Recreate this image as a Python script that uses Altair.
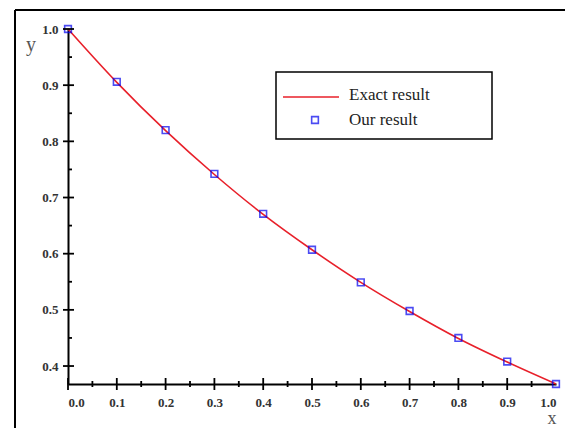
import altair as alt
import pandas as pd

# ---- data ----
x_vals = [0.0, 0.1, 0.2, 0.3, 0.4, 0.5, 0.6, 0.7, 0.8, 0.9, 1.0]
exact_y = [1.000, 0.905, 0.819, 0.741, 0.670, 0.607, 0.549, 0.497, 0.449, 0.407, 0.368]
our_y = [1.000, 0.906, 0.820, 0.742, 0.671, 0.607, 0.549, 0.498, 0.450, 0.408, 0.368]
x_major = [0.0, 0.1, 0.2, 0.3, 0.4, 0.5, 0.6, 0.7, 0.8, 0.9]
x_minor = [0.05, 0.15, 0.25, 0.35, 0.45, 0.55, 0.65, 0.75, 0.85, 0.95]
y_major = [0.4, 0.5, 0.6, 0.7, 0.8, 0.9, 1.0]
y_minor = [0.45, 0.55, 0.65, 0.75, 0.85, 0.95]
legend_labels = ["Exact result", "Our result"]

W, H = 488, 355
FONT = "Liberation Serif"

xs = alt.Scale(domain=[0, 1.0], nice=False, zero=False)
ys = alt.Scale(domain=[0.368, 1.0], nice=False, zero=False)

df_exact = pd.DataFrame({"x": x_vals, "y": exact_y})
df_our = pd.DataFrame({"x": x_vals, "y": our_y})

axis_common = dict(
    ticks=False, grid=False, domainColor="black", domainWidth=2,
    labelFont=FONT, labelFontSize=13, labelFontWeight="bold", labelColor="#333333",
    format=".1f", title=None,
)

line = alt.Chart(df_exact).mark_line(color="#e8202a", strokeWidth=1.6, interpolate="monotone").encode(
    x=alt.X("x:Q", scale=xs, axis=alt.Axis(values=x_vals, labelPadding=12, **axis_common)),
    y=alt.Y("y:Q", scale=ys, axis=alt.Axis(values=y_major, labelPadding=10, **axis_common)),
)

points = alt.Chart(df_our).mark_point(shape="square", filled=False, color="#0000ee", size=45, strokeWidth=1.6).encode(
    x=alt.X("x:Q", scale=xs), y=alt.Y("y:Q", scale=ys)
)

xmaj = alt.Chart(pd.DataFrame({"t": x_major})).mark_rule(color="black", strokeWidth=1.8).encode(
    x=alt.X("t:Q", scale=xs), y=alt.value(H - 6), y2=alt.value(H + 6)
)
xmin = alt.Chart(pd.DataFrame({"t": x_minor})).mark_rule(color="black", strokeWidth=1.8).encode(
    x=alt.X("t:Q", scale=xs), y=alt.value(H - 3), y2=alt.value(H + 3)
)
ymaj = alt.Chart(pd.DataFrame({"t": y_major})).mark_rule(color="black", strokeWidth=1.8).encode(
    y=alt.Y("t:Q", scale=ys), x=alt.value(-5), x2=alt.value(6)
)
ymin = alt.Chart(pd.DataFrame({"t": y_minor})).mark_rule(color="black", strokeWidth=1.8).encode(
    y=alt.Y("t:Q", scale=ys), x=alt.value(0), x2=alt.value(4)
)

# outer frame (only its top and left edges are inside the picture)
frame_top = alt.Chart(pd.DataFrame({"a": [0]})).mark_rule(color="black", strokeWidth=2).encode(
    x=alt.value(-53), x2=alt.value(W + 20), y=alt.value(-19)
)
frame_left = alt.Chart(pd.DataFrame({"a": [0]})).mark_rule(color="black", strokeWidth=2).encode(
    x=alt.value(-53), y=alt.value(-19), y2=alt.value(H + 60)
)

# axis titles
ytitle = alt.Chart(pd.DataFrame({"s": ["y"]})).mark_text(
    font=FONT, fontSize=20, color="#555555", baseline="middle", align="center"
).encode(x=alt.value(-37), y=alt.value(16), text="s:N")
xtitle = alt.Chart(pd.DataFrame({"s": ["x"]})).mark_text(
    font=FONT, fontSize=18, color="#555555", baseline="middle", align="center"
).encode(x=alt.value(484), y=alt.value(390), text="s:N")

# legend
lbox = alt.Chart(pd.DataFrame({"a": [0]})).mark_rect(fill="white", stroke="black", strokeWidth=1.5).encode(
    x=alt.value(208), x2=alt.value(424), y=alt.value(43), y2=alt.value(110)
)
lline = alt.Chart(pd.DataFrame({"a": [0]})).mark_rule(color="#e8202a", strokeWidth=1.6).encode(
    x=alt.value(215), x2=alt.value(271), y=alt.value(68)
)
lsq = alt.Chart(pd.DataFrame({"a": [0]})).mark_point(shape="square", filled=False, color="#0000ee", size=45, strokeWidth=1.6).encode(
    x=alt.value(247), y=alt.value(91)
)
ltext = alt.Chart(pd.DataFrame({"s": legend_labels, "yy": [66, 91]})).mark_text(
    font=FONT, fontSize=17, color="#222222", align="left", baseline="middle"
).encode(x=alt.value(281), y=alt.Y("yy:Q", scale=None), text="s:N")

chart = alt.layer(
    frame_top, frame_left, lbox, line, points, xmaj, xmin, ymaj, ymin, ytitle, xtitle, lline, lsq, ltext
).properties(
    width=W, height=H,
    background="white",
    autosize=alt.AutoSizeParams(type="none"),
    padding={"left": 60, "top": 21, "right": 9, "bottom": 44},
).configure_view(strokeWidth=2, stroke="#ffffff").configure_axis(grid=False)

chart.save("out.html", embed_options={"renderer": "svg", "actions": False})
